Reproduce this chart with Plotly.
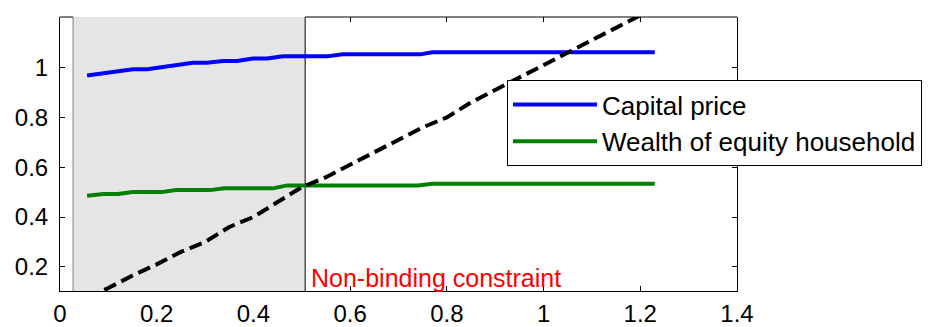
import plotly.graph_objects as go

# ---------------- data ----------------
x_ticks = [0, 0.2, 0.4, 0.6, 0.8, 1.0, 1.2, 1.4]
x_ticktext = ["0", "0.2", "0.4", "0.6", "0.8", "1", "1.2", "1.4"]
y_ticks = [0.2, 0.4, 0.6, 0.8, 1.0]
y_ticktext = ["0.2", "0.4", "0.6", "0.8", "1"]
inner_ticks = [0.6, 0.8, 1.0, 1.2]

price_x = [0.056, 0.151, 0.18, 0.275, 0.304, 0.337, 0.366, 0.399, 0.428, 0.461,
           0.552, 0.585, 0.745, 0.77, 1.23]
price_y = [0.968, 0.993, 0.993, 1.019, 1.019, 1.026, 1.026, 1.036, 1.036, 1.045,
           1.045, 1.053, 1.053, 1.061, 1.061]

wealth_x = [0.056, 0.09, 0.12, 0.15, 0.21, 0.24, 0.31, 0.34, 0.44, 0.47, 0.74, 0.77, 1.23]
wealth_y = [0.485, 0.492, 0.492, 0.5, 0.5, 0.508, 0.508, 0.515, 0.515, 0.527, 0.527, 0.534, 0.534]

ref_x = [0.056, 0.1, 0.15, 0.2, 0.25, 0.3, 0.35, 0.4, 0.45, 0.5, 0.55, 0.6, 0.65,
         0.7, 0.75, 0.8, 0.85, 0.9, 0.95, 1.0, 1.05, 1.1, 1.15, 1.2, 1.23]
ref_y = [0.075, 0.115, 0.165, 0.21, 0.26, 0.3, 0.36, 0.4, 0.46, 0.52, 0.56, 0.61, 0.66,
         0.71, 0.76, 0.8, 0.86, 0.91, 0.96, 1.01, 1.06, 1.11, 1.16, 1.21, 1.24]

shade_x = [0.027, 0.507]
x_range = [0, 1.4]
y_range = [0.103, 1.203]
label_text = "Non-binding constraint"
label_x = 0.514
legend_names = ["Capital price", "Wealth of equity household"]

FONT = "Liberation Sans, Arial, Helvetica, sans-serif"

fig = go.Figure()
fig.add_trace(go.Scatter(x=price_x, y=price_y, mode="lines", name=legend_names[0],
                         line=dict(color="#0000ff", width=4)))
fig.add_trace(go.Scatter(x=wealth_x, y=wealth_y, mode="lines", name=legend_names[1],
                         line=dict(color="#008000", width=4)))
fig.add_trace(go.Scatter(x=ref_x, y=ref_y, mode="lines", showlegend=False,
                         line=dict(color="black", width=4, dash="13px,6px")))
# dummy traces to carry tick-only overlay axes
fig.add_trace(go.Scatter(x=[None], y=[None], xaxis="x2", showlegend=False, hoverinfo="skip"))
fig.add_trace(go.Scatter(x=[None], y=[None], xaxis="x3", showlegend=False, hoverinfo="skip"))

# shaded region
fig.add_shape(type="rect", xref="x", yref="paper", x0=shade_x[0], x1=shade_x[1], y0=0, y1=1,
              fillcolor="#e5e5e5", line=dict(width=0), layer="below")
fig.add_shape(type="line", xref="x", yref="paper", x0=shade_x[0], x1=shade_x[0], y0=0, y1=1,
              line=dict(color="#808080", width=1), layer="below")
fig.add_shape(type="line", xref="x", yref="paper", x0=shade_x[1], x1=shade_x[1], y0=0, y1=1,
              line=dict(color="black", width=1), layer="below")
# top border outside the shaded part
fig.add_shape(type="line", xref="x", yref="paper", x0=shade_x[1], x1=x_range[1], y0=1, y1=1,
              line=dict(color="black", width=1), layer="below")
fig.add_shape(type="line", xref="x", yref="paper", x0=x_range[0], x1=shade_x[0], y0=1, y1=1,
              line=dict(color="black", width=1), layer="below")

fig.add_annotation(text=label_text, x=label_x, xref="x", y=0, yref="paper",
                   xanchor="left", yanchor="bottom", yshift=-3, showarrow=False,
                   font=dict(family=FONT, size=25, color="#ff0000"))

tick_font = dict(family=FONT, size=24, color="black")
fig.update_layout(
    width=930, height=327,
    margin=dict(l=60, r=193, t=17, b=36, autoexpand=False),
    plot_bgcolor="white", paper_bgcolor="white",
    font=dict(family=FONT, color="black"),
    xaxis=dict(range=x_range, tickvals=x_ticks, ticktext=x_ticktext, ticks="",
               showline=True, linecolor="black", linewidth=1, mirror=False,
               showgrid=False, zeroline=False, tickfont=tick_font, ticklabelstandoff=1),
    xaxis2=dict(range=x_range, overlaying="x", side="top", anchor="y", tickvals=inner_ticks,
                ticks="inside", ticklen=5, tickcolor="black", showticklabels=False,
                showline=False, showgrid=False, zeroline=False),
    xaxis3=dict(range=x_range, overlaying="x", side="bottom", anchor="y", tickvals=inner_ticks,
                ticks="inside", ticklen=5, tickcolor="black", showticklabels=False,
                showline=False, showgrid=False, zeroline=False),
    yaxis=dict(range=y_range, tickvals=y_ticks, ticktext=y_ticktext, ticks="inside",
               ticklen=5, tickcolor="black", showline=True, linecolor="black", linewidth=1,
               mirror="ticks", showgrid=False, zeroline=False, tickfont=tick_font,
               ticklabelstandoff=6),
    legend=dict(x=(507 - 60) / 677, y=(291 - 80) / 274, xanchor="left", yanchor="top",
                bgcolor="white", bordercolor="black", borderwidth=1,
                font=dict(family=FONT, size=26, color="black"), itemwidth=84,
                tracegroupgap=0),
    showlegend=True,
)

fig.write_html("out.html")
